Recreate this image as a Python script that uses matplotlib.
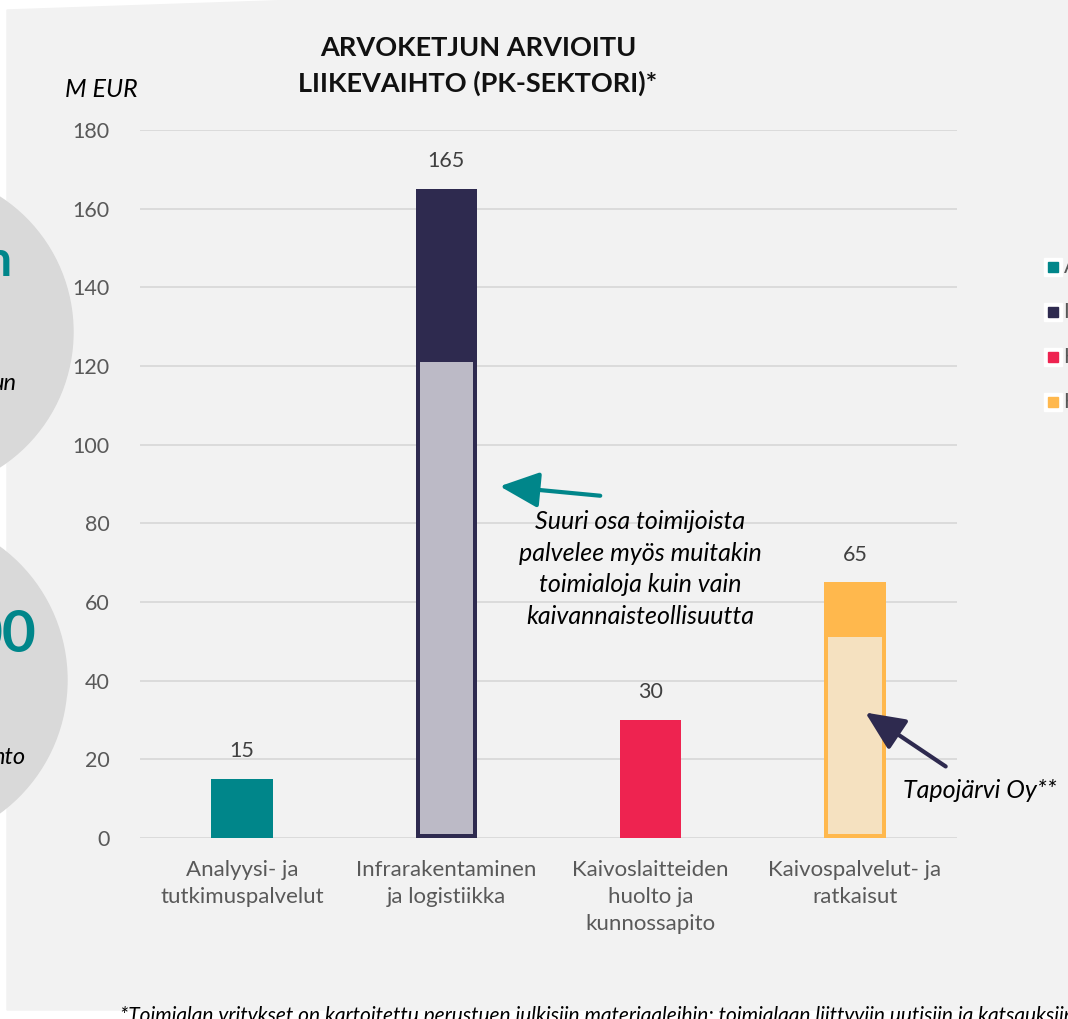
import matplotlib
matplotlib.use("Agg")
import matplotlib.pyplot as plt
from matplotlib.patches import Circle, Rectangle, Polygon, FancyArrowPatch

plt.rcParams['font.family'] = ['Lato', 'DejaVu Sans']

categories = ["Analyysi- ja\ntutkimuspalvelut", "Infrarakentaminen\nja logistiikka",
              "Kaivoslaitteiden\nhuolto ja\nkunnossapito", "Kaivospalvelut- ja\nratkaisut"]
totals = [15, 165, 30, 65]
inner_values = [0, 121, 0, 51]
colors = ["#00868a", "#2e2a4f", "#ee2350", "#ffb84d"]
inner_colors = [None, "#bcbac6", None, "#f5e1c0"]
legend_labels = ["Analyysi- ja tutkimuspalvelut", "Infrarakentaminen ja logistiikka",
                 "Kaivoslaitteiden huolto ja kunnossapito", "Kaivospalvelut- ja ratkaisut"]
yticks = [0, 20, 40, 60, 80, 100, 120, 140, 160, 180]

W, H = 1068, 1019
fig = plt.figure(figsize=(W/100, H/100), dpi=100)
fig.patch.set_facecolor("white")

def pix_axes(z):
    a = fig.add_axes([0, 0, 1, 1])
    a.set_xlim(0, W); a.set_ylim(H, 0); a.axis("off")
    a.set_zorder(z)
    a.patch.set_visible(False)
    return a

# background panel
bg = pix_axes(0)
bg.add_patch(Polygon([(7, 10), (300, 0), (W, 0), (W, 1010), (7, 1010)], closed=True,
                     color="#f2f2f2", zorder=0))
bg.add_patch(Circle((-88, 332), 161, color="#d9d9d9", zorder=1))
bg.add_patch(Circle((-98, 680), 165, color="#d9d9d9", zorder=1))
bg.text(12, 262, "n", color="#00868a", fontsize=36, fontweight="bold", ha="right", va="center")
bg.text(16, 384, "un", color="black", fontsize=17, style="italic", ha="right", va="center")
bg.text(36, 636, "00", color="#00868a", fontsize=42, fontweight="bold", ha="right", va="center")
bg.text(25, 757, "nto", color="black", fontsize=17, style="italic", ha="right", va="center")

# legend (cut off at right edge)
for i, (c, lab) in enumerate(zip(colors, legend_labels)):
    y = 267 + i * 45
    bg.add_patch(Rectangle((1044, y - 9), 18, 18, color="white", zorder=2))
    bg.add_patch(Rectangle((1048, y - 5), 10, 10, color=c, zorder=3))
    bg.text(1064, y, lab, fontsize=15, color="#595959", ha="left", va="center")

bg.text(478, 48, "ARVOKETJUN ARVIOITU", fontsize=19.5, fontweight="bold", ha="center", va="center", color="#111111")
bg.text(478, 83, "LIIKEVAIHTO (PK-SEKTORI)*", fontsize=19.5, fontweight="bold", ha="center", va="center", color="#111111")
bg.text(101, 89, "M EUR", fontsize=18, style="italic", ha="center", va="center", color="black")
bg.text(120, 1016, "*Toimialan yritykset on kartoitettu perustuen julkisiin materiaaleihin; toimialaan liittyviin uutisiin ja katsauksiin",
        fontsize=15, style="italic", ha="left", va="center", color="black")

# main axes
x0, x1 = 140, 957
y0, y1 = 130, 838
ax = fig.add_axes([x0/W, 1 - y1/H, (x1-x0)/W, (y1-y0)/H])
ax.set_zorder(1)
ax.patch.set_visible(False)
ax.set_xlim(-0.5, 3.5)
ax.set_ylim(0, 180)
ax.set_yticks(yticks)
ax.yaxis.grid(True, color="#d9d9d9", linewidth=1.3)
ax.set_axisbelow(True)
for s in ax.spines.values():
    s.set_visible(False)
ax.tick_params(axis="y", length=0, labelsize=15.5, labelcolor="#595959", pad=22)
ax.tick_params(axis="x", length=0, labelsize=16, labelcolor="#595959", pad=16)
ax.set_xticks(range(4))
ax.set_xticklabels(categories, linespacing=1.42)

bw = 0.30
for i, (t, inner, c, ic) in enumerate(zip(totals, inner_values, colors, inner_colors)):
    ax.bar(i, t, width=bw, color=c, zorder=2)
    if inner:
        ax.bar(i, inner, width=bw * 0.87, color=ic, zorder=3)
        ax.bar(i, 1.0, width=bw, color=c, zorder=3)
    ax.text(i, t + 4.5, f"{t}", ha="center", va="bottom", fontsize=15.5, color="#404040")

# annotations on top
top = pix_axes(2)
top.text(640, 569, "Suuri osa toimijoista\npalvelee myös muitakin\ntoimialoja kuin vain\nkaivannaisteollisuutta",
         fontsize=18, style="italic", ha="center", va="center", linespacing=1.45, color="black")
top.add_patch(FancyArrowPatch((603, 496), (497, 486), arrowstyle="-|>,head_length=11,head_width=5",
                              mutation_scale=2.2, color="#00868a", linewidth=3, zorder=5))
top.text(903, 790, "Tapojärvi Oy**", fontsize=18, style="italic", ha="left", va="center", color="black")
top.add_patch(FancyArrowPatch((948, 768), (863, 711), arrowstyle="-|>,head_length=11,head_width=5",
                              mutation_scale=2.2, color="#2e2a4f", linewidth=3, zorder=5))

fig.savefig("out.png", dpi=100, facecolor=fig.get_facecolor())
